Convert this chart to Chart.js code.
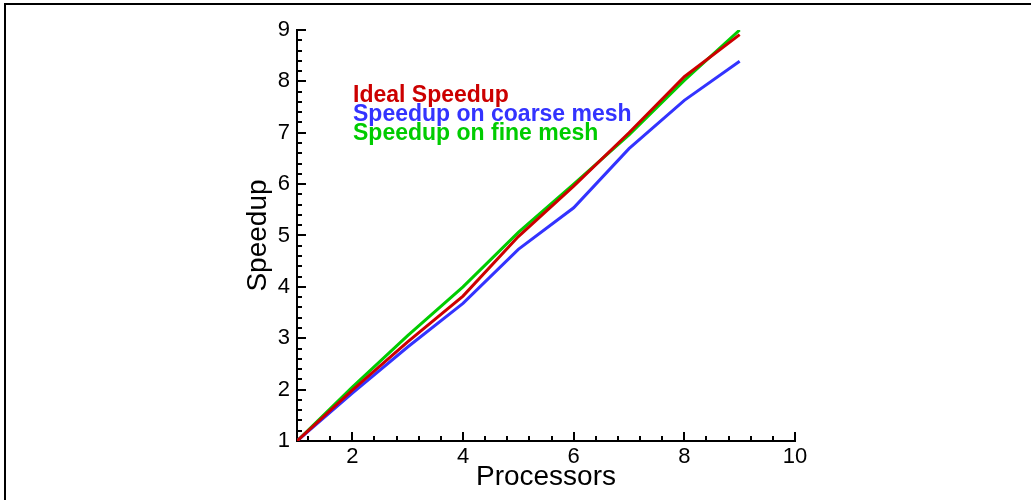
<!DOCTYPE html>
<html>
<head>
<meta charset="utf-8">
<title>Speedup</title>
<script src="https://cdn.jsdelivr.net/npm/chart.js@4/dist/chart.umd.min.js"></script>
<style>
  html, body { margin: 0; padding: 0; background: #fff; }
  canvas { display: block; }
</style>
</head>
<body>
<canvas id="speedupChart" width="1031" height="500"></canvas>
<script>
const processors = [1, 2, 3, 4, 5, 6, 7, 8, 9];
const idealSpeedup = [1, 1.99, 2.93, 3.82, 4.98, 5.96, 7.0, 8.09, 8.91];
const coarseSpeedup = [1, 1.93, 2.83, 3.68, 4.73, 5.54, 6.69, 7.63, 8.39];
const fineSpeedup = [1, 2.05, 3.05, 4.0, 5.06, 6.0, 6.96, 8.02, 9.0];
const xTickLabels = [2, 4, 6, 8, 10];
const yTickLabels = [1, 2, 3, 4, 5, 6, 7, 8, 9];

const RED = '#cc0000';
const BLUE = '#3333ff';
const GREEN = '#00cc00';
const FONT = "'Liberation Sans', Arial, sans-serif";

function toPoints(ys) {
    return processors.map((x, i) => ({ x: x, y: ys[i] }));
}

// tick marks inside the axes, text legend and the page frame
const decorations = {
    id: 'decorations',
    afterDraw(chart) {
        const ctx = chart.ctx;
        const area = chart.chartArea;
        const xs = chart.scales.x;
        const ys = chart.scales.y;
        ctx.save();
        ctx.strokeStyle = '#000';
        ctx.lineWidth = 2;
        ctx.beginPath();
        // x axis: minor every 0.4 starting at 1.2, major at tick labels
        for (let v = 1.2; v < 10.01; v += 0.4) {
            const px = Math.round(xs.getPixelForValue(v));
            const major = xTickLabels.some(t => Math.abs(t - v) < 0.01);
            ctx.moveTo(px, area.bottom);
            ctx.lineTo(px, area.bottom - (major ? 9 : 5));
        }
        // y axis: minor every 0.2
        for (let v = 1.2; v < 9.01; v += 0.2) {
            const py = Math.round(ys.getPixelForValue(v));
            const major = yTickLabels.some(t => Math.abs(t - v) < 0.01);
            ctx.moveTo(area.left, py);
            ctx.lineTo(area.left + (major ? 9 : 5), py);
        }
        ctx.stroke();

        // legend as coloured text
        ctx.font = 'bold 23px ' + FONT;
        ctx.textBaseline = 'alphabetic';
        ctx.textAlign = 'left';
        const baselines = [102, 121, 140];
        chart.data.datasets.forEach((ds, i) => {
            ctx.fillStyle = ds.borderColor;
            ctx.fillText(ds.label, 353, baselines[i]);
        });

        // frame (top and left edges)
        ctx.fillStyle = '#000';
        ctx.fillRect(4, 3, chart.width, 2);
        ctx.fillRect(4, 3, 2, chart.height);
        ctx.restore();
    }
};

const ctx = document.getElementById('speedupChart').getContext('2d');
window.myChart = new Chart(ctx, {
    type: 'line',
    data: {
        datasets: [{
            label: 'Ideal Speedup',
            data: toPoints(idealSpeedup),
            borderColor: RED,
            borderWidth: 3,
            pointRadius: 0,
            tension: 0
        }, {
            label: 'Speedup on coarse mesh',
            data: toPoints(coarseSpeedup),
            borderColor: BLUE,
            borderWidth: 3,
            pointRadius: 0,
            tension: 0
        }, {
            label: 'Speedup on fine mesh',
            data: toPoints(fineSpeedup),
            borderColor: GREEN,
            borderWidth: 3,
            pointRadius: 0,
            tension: 0
        }]
    },
    options: {
        responsive: false,
        animation: false,
        layout: {
            padding: { left: 237, right: 236, top: 30, bottom: 0 }
        },
        plugins: {
            legend: { display: false },
            tooltip: { enabled: false }
        },
        scales: {
            x: {
                type: 'linear',
                min: 1,
                max: 10,
                afterBuildTicks: scale => { scale.ticks = xTickLabels.map(v => ({ value: v })); },
                afterFit: scale => { scale.height = 59; },
                grid: { display: false, drawTicks: false },
                border: { display: true, color: '#000', width: 2 },
                ticks: {
                    color: '#000',
                    padding: 3,
                    maxRotation: 0,
                    font: { family: FONT, size: 22 }
                },
                title: {
                    display: true,
                    text: 'Processors',
                    color: '#000',
                    padding: { top: 0, bottom: 6 },
                    font: { family: FONT, size: 28 }
                }
            },
            y: {
                type: 'linear',
                min: 1,
                max: 9,
                afterBuildTicks: scale => { scale.ticks = yTickLabels.map(v => ({ value: v })); },
                afterFit: scale => { scale.width = 60; },
                grid: { display: false, drawTicks: false },
                border: { display: true, color: '#000', width: 2 },
                ticks: {
                    color: '#000',
                    padding: 7,
                    font: { family: FONT, size: 22 }
                },
                title: {
                    display: true,
                    text: 'Speedup',
                    color: '#000',
                    padding: { top: 4, bottom: 0 },
                    font: { family: FONT, size: 28 }
                }
            }
        }
    },
    plugins: [decorations]
});
</script>
</body>
</html>
